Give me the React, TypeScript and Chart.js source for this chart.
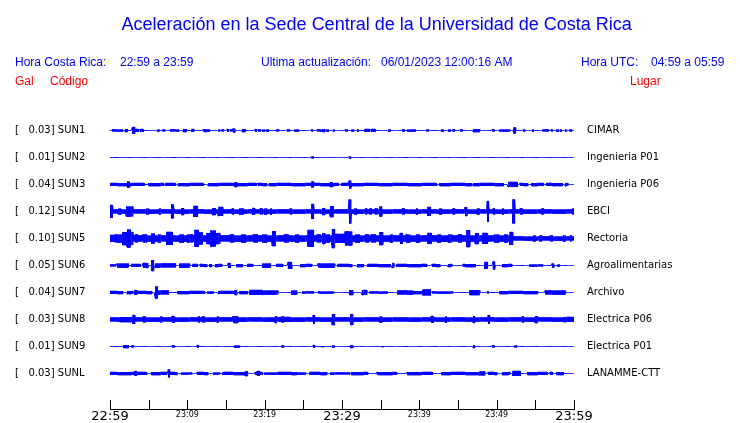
import React, { useEffect, useRef } from 'react';
import { Chart, registerables } from 'chart.js';

Chart.register(...registerables);

// ---------- data ----------
const CODES = ['SUN1', 'SUN2', 'SUN3', 'SUN4', 'SUN5', 'SUN6', 'SUN7', 'SUN8', 'SUN9', 'SUNL'];
const PLACES = ['CIMAR', 'Ingenieria P01', 'Ingenieria P06', 'EBCI', 'Rectoria', 'Agroalimentarias', 'Archivo', 'Electrica P06', 'Electrica P01', 'LANAMME-CTT'];
const PEAK_GAL = [0.03, 0.01, 0.04, 0.12, 0.10, 0.05, 0.04, 0.03, 0.01, 0.03];

// background (noise) half-amplitude of each trace
const BASE_AMP = [0.5, 0.5, 0.5, 2.5, 2.5, 0.5, 0.5, 2.5, 0.5, 0.5];

// bursts: [start minute, end minute, half-amplitude]
const BURSTS_SUN1 = [[0.26,0.26,1.5],[0.65,0.65,1.5],[1.03,1.03,1.5],[1.42,1.42,1.5],[1.94,2.2,2],[2.91,2.91,4],[3.36,3.7,2],[3.9,4.27,2],[6.08,6.08,1.5],[6.85,6.85,1.5],[7.76,7.76,1.5],[8.15,8.15,1.5],[8.66,8.66,1.5],[9.44,9.83,2],[10.6,10.86,2],[12.03,12.03,1.5],[12.28,12.28,2],[12.67,12.67,1.5],[13.97,13.97,1.5],[14.48,14.48,1.5],[15.13,15.13,2],[15.52,15.52,1.5],[15.9,15.9,2.5],[17.07,17.46,2],[18.75,18.75,2],[19.14,19.14,1.5],[19.78,19.78,1.5],[20.3,20.3,1.5],[21.6,21.6,1.5],[22.89,22.89,1.5],[23.92,23.92,1.5],[24.18,24.18,1.5],[26.0,26.0,1.5],[26.77,26.77,1.5],[27.16,27.16,1.5],[27.54,27.54,2],[28.06,28.06,1.5],[28.84,28.84,1.5],[30.39,30.65,1.5],[31.29,31.29,1.5],[31.94,31.94,1.5],[32.97,33.5,2],[33.8,34.27,2],[35.95,35.95,1.5],[37.76,37.76,1.5],[38.53,39.44,1.5],[40.99,40.99,1.5],[42.93,42.93,1.5],[43.71,43.71,1.5],[44.35,44.35,1.5],[45.26,45.52,1.5],[46.94,47.84,2],[49.4,49.4,1.5],[50.43,51.72,1.5],[52.24,52.24,3.5],[53.41,53.41,1.5],[54.57,54.57,1.5],[55.99,56.64,1.5],[57.0,57.0,1.5],[57.8,57.8,1.5],[58.19,58.19,1.5],[58.84,58.84,1.5],[59.48,59.48,1.5]];
const BURSTS_SUN2 = [[26.08,26.08,1.5],[30.9,30.9,1.5]];
const BURSTS_SUN3 = [[0,4.4,2],[2.29,2.29,3.5],[5.04,6.89,2],[7.24,8.4,2],[8.83,9.27,2],[9.4,12.06,2],[12.71,15.94,2],[16.16,16.16,3],[16.46,18.97,2],[19.18,20.26,2],[20.6,29.52,2],[26.08,26.08,3.5],[28.54,28.54,3],[29.96,42.25,2],[30.9,30.9,4.5],[42.67,46.77,2],[46.98,50.86,2],[51.47,52.63,3],[53.02,54.05,2],[54.53,56.03,2],[56.47,57.76,2],[57.93,58.45,2],[58.84,59.22,2]];
const BURSTS_SUN4 = [[0,0.35,7],[1.16,1.16,3.5],[2.07,2.97,5.5],[4.75,4.75,3.5],[6.34,6.34,3.5],[7.98,7.98,7.5],[9.31,9.44,4],[10.86,11.25,6],[13.19,13.58,4],[13.97,14.61,5],[15.78,15.78,3.5],[16.81,17.2,3.5],[18.49,18.49,4],[19.4,19.4,3.5],[20.04,20.04,3.5],[20.69,20.69,3.5],[23.28,23.28,3.5],[26.08,26.08,8],[27.54,27.54,4],[28.45,28.84,6],[30.9,31.16,12.5],[31.68,31.68,3.5],[33.0,33.0,3.5],[33.6,33.6,3.5],[34.3,34.3,3.5],[34.91,34.91,5.5],[37.76,37.89,3.5],[39.57,39.57,3.5],[41.12,41.38,5],[42.67,42.67,3.5],[44.35,44.35,3.5],[45.91,46.16,5],[47.46,47.46,3.5],[48.75,48.75,11],[49.53,49.53,3.5],[50.69,50.69,3.5],[52.11,52.11,12.5],[53.02,53.02,3.5],[55.86,55.86,3.5],[59.87,59.87,3.5]];
const BURSTS_SUN5 = [[0,52.1,3.5],[0,0.65,4],[0.65,1.55,4.5],[1.68,2.2,7],[2.2,2.6,9.5],[2.6,2.97,7],[3.3,3.6,4.5],[4.3,4.8,4.5],[5.43,5.7,5.5],[6.2,6.6,4.5],[7.37,8.02,7],[9.05,9.5,4.5],[10.0,10.73,4.5],[10.99,11.4,9],[11.4,11.9,6.5],[12.54,13.0,6],[13.0,13.6,8.5],[13.6,14.22,6],[15.5,16,4.5],[17,17.5,4.5],[18.5,19,4.5],[19.8,20.3,4.5],[20.95,21.34,8],[22.5,23,4.5],[24,24.4,4.5],[25.6,26.25,9],[26.77,27.2,4.5],[27.54,27.54,6],[27.8,28.4,4.5],[28.71,28.97,10],[29.1,30.26,5],[30.39,31.29,7.5],[31.8,32.3,4.5],[33.0,33.4,4.5],[33.8,34.3,4.5],[34.91,35.3,7],[36.2,36.6,4.5],[37.5,37.76,6],[38.3,38.8,4.5],[39.6,40.0,4.5],[41.12,41.51,6],[42.4,42.8,4.5],[43.7,44.2,4.5],[45.0,45.4,4.5],[46.16,46.55,9],[47.2,47.59,6],[48.23,48.75,6],[49.8,50.3,4.5],[51.0,51.4,4.5],[51.72,52.11,7],[54.7,54.7,3.5],[55.6,55.6,3.5],[56.9,56.9,3.5],[58.58,58.58,3.5],[59.5,59.5,3.5]];
const BURSTS_SUN6 = [[0,0.65,1.5],[0.91,2.33,2.5],[2.84,3.88,2],[4.27,4.91,3],[5.43,5.43,6],[5.82,8.4,2.5],[9.05,10.34,2.5],[10.73,11.25,2],[11.64,12.03,2],[12.28,12.54,2],[12.93,12.93,2],[13.58,14.48,2],[15.26,15.26,3],[16.42,17.07,2],[17.84,18.49,2],[19.78,20.69,2.5],[21.6,22.37,2],[23.02,23.53,4],[24.57,26.12,2],[26.9,29.1,2.5],[29.48,31.29,2],[31.94,32.72,2],[33.36,36.21,2],[36.47,36.47,3],[37.11,40.99,2],[41.64,42.67,2],[43.71,44.22,2],[45.65,47.2,2],[48.49,48.75,4],[49.53,49.53,4.5],[50.69,51.98,2],[54.31,55.99,1.5],[57.15,57.15,2.5],[57.93,57.93,1.5]];
const BURSTS_SUN7 = [[0,1.68,2],[2.2,2.97,2],[3.23,3.23,3],[3.49,5.43,2],[5.82,6.08,6.5],[6.21,7.5,2.5],[8.79,12.28,2],[12.67,13.32,1.5],[13.97,15.9,2],[16.16,16.16,3],[16.81,17.84,2],[18.1,19.78,3],[19.78,21.72,2.5],[23.53,24.18,2.5],[24.83,26.25,1.5],[26.9,28.84,1.5],[31.03,31.42,3],[32.59,33.23,3],[33.62,35.82,1.5],[37.24,39.18,2.5],[39.18,40.47,2],[40.47,41.38,3.5],[41.64,44.35,1.5],[46.55,47.84,3],[48.75,48.75,1.5],[50.43,55.34,2],[56.25,58.84,2.5]];
const BURSTS_SUN8 = [[1.29,2.84,3],[2.97,2.97,5],[4.27,4.27,3.5],[6.47,6.47,3.5],[8.02,8.02,4],[11.38,11.38,3.5],[11.9,11.9,3.5],[13.84,13.84,3.5],[15.9,16.55,4],[21.34,21.34,4],[21.98,23.28,3],[22.24,22.24,3.5],[26.25,26.25,5],[28.71,28.71,6],[31.16,31.16,6],[34.91,34.91,3.5],[41.51,41.51,4],[43.32,43.32,3.5],[46.94,46.94,4],[48.88,48.88,5],[53.28,53.28,3.5],[54.96,54.96,4],[58.58,60,3]];
const BURSTS_SUN9 = [[1.81,2.33,2],[2.84,2.84,1.5],[8.02,8.02,1.5],[11.25,11.25,2],[16.16,16.16,1.5],[16.55,16.55,1.5],[22.24,22.24,1.5],[26.25,26.25,2],[27.41,27.41,1],[28.71,28.71,1.5],[31.16,31.16,2],[35.17,35.17,1],[46.94,46.94,2],[49.4,49.4,1.5],[52.37,52.37,1.5]];
const BURSTS_SUNL = [[0,3.23,2],[3.23,3.49,3],[3.62,4.78,2],[5.43,7.37,2],[7.5,7.5,4.5],[7.76,8.66,2],[9.31,10.6,1.5],[11.25,12.67,2],[13.32,14.22,1.5],[14.61,17.46,2],[17.46,17.46,3],[18.75,19.66,2],[19.01,19.01,3],[20.04,21.6,1.5],[21.72,24.18,2],[24.31,25.22,1.5],[25.86,28.06,2],[28.45,31.03,1.5],[31.29,33.36,2],[34.53,37.11,2],[38.4,41.64,2],[42.93,47.84,2],[47.84,48.49,2.5],[48.88,50.04,2],[50.69,51.72,2],[52.11,53.02,3],[54.05,56.51,2],[56.9,56.9,2],[57.8,58.58,2]];

const BURSTS = [BURSTS_SUN1, BURSTS_SUN2, BURSTS_SUN3, BURSTS_SUN4, BURSTS_SUN5, BURSTS_SUN6, BURSTS_SUN7, BURSTS_SUN8, BURSTS_SUN9, BURSTS_SUNL];

const X_TICK_MINUTES = [0, 5, 10, 15, 20, 25, 30, 35, 40, 45, 50, 55, 60];
const X_TICK_LABELS = ['22:59', '', '23:09', '', '23:19', '', '23:29', '', '23:39', '', '23:49', '', '23:59'];
const X_MAJOR_MINUTES = [0, 30, 60];

const TITLE = 'Aceleración en la Sede Central de la Universidad de Costa Rica';
const HEADER_BLUE = [
  ['Hora Costa Rica:', 15], ['22:59 a 23:59', 120],
  ['Ultima actualización:', 261], ['06/01/2023 12:00:16 AM', 381],
  ['Hora UTC:', 581], ['04:59 a 05:59', 651],
];
const HEADER_RED = [['Gal', 15], ['Código', 50], ['Lugar', 630]];

// ---------- layout constants ----------
const SPAN_MIN = 60;
const BIN = 0.0625;
const MIN_BURST = 0.24;
const STROKE = 1;
const ROW = 27;
const Y_FOOT = 35.5;
const Y_MAX = 292.5;
const BLUE = '#0000ff';
const RED = '#ff0000';
const TICK_FONT = '"DejaVu Sans"';
const HEAD_FONT = '"Liberation Sans"';

const centerOf = (i: number) => Y_FOOT + ROW * (CODES.length - 1 - i);
const CENTERS = CODES.map((_, i) => centerOf(i));

function envelope(base: number, bursts: number[][]) {
  const n = Math.round(SPAN_MIN / BIN);
  const amps = new Array(n).fill(base);
  for (const [t0, t1, a] of bursts) {
    const i0 = Math.floor(t0 / BIN + 1e-6);
    const i1 = Math.floor(Math.max(t1, t0 + MIN_BURST) / BIN + 1e-6);
    for (let i = i0; i <= i1 && i < n; i++) amps[i] = Math.max(amps[i], a);
  }
  return amps;
}

// the trace is drawn as a seismogram-like stroke swinging between the envelope limits
function tracePoints(amps: number[], c: number) {
  const pts: { x: number; y: number }[] = [{ x: 0, y: c }];
  amps.forEach((amp, i) => {
    const a = Math.max(amp - STROKE / 2, 0);
    const x = (i + 0.5) * BIN;
    const s = i % 2 === 0 ? 1 : -1;
    pts.push({ x, y: c + s * a });
    pts.push({ x, y: c - s * a });
  });
  pts.push({ x: SPAN_MIN, y: c });
  return pts;
}

function buildDatasets() {
  return CODES.map((code, i) => ({
    label: code,
    data: tracePoints(envelope(BASE_AMP[i], BURSTS[i]), CENTERS[i]),
    borderColor: BLUE,
    borderWidth: STROKE,
    borderJoinStyle: 'bevel',
    pointRadius: 0,
    fill: false,
    tension: 0,
  }));
}

const headerPlugin = {
  id: 'header',
  afterDraw(chart: any) {
    const ctx = chart.ctx;
    ctx.save();
    ctx.textAlign = 'left';
    ctx.textBaseline = 'alphabetic';
    ctx.fillStyle = BLUE;
    ctx.font = `18px ${HEAD_FONT}`;
    ctx.fillText(TITLE, 121.5, 30);
    ctx.font = `12px ${HEAD_FONT}`;
    HEADER_BLUE.forEach(([t, x]) => ctx.fillText(t as string, x as number, 66));
    ctx.fillStyle = RED;
    HEADER_RED.forEach(([t, x]) => ctx.fillText(t as string, x as number, 85));
    ctx.restore();
  },
};

const tickMarkPlugin = {
  id: 'tickMarks',
  afterDraw(chart: any) {
    const xs = chart.scales.x;
    const ctx = chart.ctx;
    const bottom = chart.chartArea.bottom;
    ctx.save();
    ctx.strokeStyle = '#000';
    ctx.lineWidth = 1;
    ctx.beginPath();
    xs.ticks.forEach((t: any) => {
      const px = Math.round(xs.getPixelForValue(t.value)) + 0.5;
      ctx.moveTo(px, bottom - 9);
      ctx.lineTo(px, bottom);
    });
    ctx.stroke();
    ctx.restore();
  },
};

export default function App() {
  const ref = useRef<HTMLCanvasElement>(null);
  useEffect(() => {
    const chart = new Chart(ref.current as HTMLCanvasElement, {
      type: 'line',
      data: { datasets: buildDatasets() as any },
      options: {
        animation: false,
        responsive: false,
        devicePixelRatio: 1,
        events: [],
        layout: { padding: { top: 116.5, left: 15, right: 0, bottom: 0 } },
        plugins: { legend: { display: false }, tooltip: { enabled: false }, title: { display: false } },
        scales: {
          x: {
            type: 'linear', position: 'bottom', min: 0, max: SPAN_MIN,
            grid: { display: false, drawTicks: false, tickLength: 0 },
            border: { display: true, color: '#000', width: 1 },
            afterBuildTicks: (s: any) => { s.ticks = X_TICK_MINUTES.map((v) => ({ value: v })); },
            afterFit: (s: any) => { s.height = 14; },
            ticks: {
              autoSkip: false, maxRotation: 0, minRotation: 0, padding: 0, color: '#000',
              callback: (v: any) => X_TICK_LABELS[X_TICK_MINUTES.indexOf(Number(v))] ?? '',
              font: (c: any) => (c.tick && X_MAJOR_MINUTES.includes(c.tick.value)
                ? { family: TICK_FONT, size: 13, lineHeight: 1.1 }
                : { family: TICK_FONT, size: 8, lineHeight: 1.5 }),
            },
          },
          y: {
            type: 'linear', position: 'left', min: 0, max: Y_MAX,
            grid: { display: false, drawTicks: false, tickLength: 0 }, border: { display: false },
            afterBuildTicks: (s: any) => { s.ticks = CENTERS.map((v) => ({ value: v })); },
            afterFit: (s: any) => { s.width = 95; },
            ticks: {
              autoSkip: false, crossAlign: 'far', padding: 0, color: '#000',
              font: { family: TICK_FONT, size: 10 },
              callback: (_v: any, i: number) => `[   ${PEAK_GAL[i].toFixed(2)}] ${CODES[i]}`,
            },
          },
          yr: {
            type: 'linear', position: 'right', min: 0, max: Y_MAX, display: true,
            grid: { display: true, drawOnChartArea: false, drawTicks: true, tickLength: 13, color: 'rgba(0,0,0,0)' },
            border: { display: false },
            afterBuildTicks: (s: any) => { s.ticks = CENTERS.map((v) => ({ value: v })); },
            afterFit: (s: any) => { s.width = 166; },
            ticks: {
              autoSkip: false, padding: 0, color: '#000',
              font: { family: TICK_FONT, size: 10 },
              callback: (_v: any, i: number) => PLACES[i],
            },
          },
        },
      } as any,
      plugins: [headerPlugin, tickMarkPlugin],
    });
    return () => chart.destroy();
  }, []);
  return (
    <div style={{ position: 'fixed', left: 0, top: 0, width: 740, height: 423, background: '#fff' }}>
      <canvas ref={ref} width={740} height={423} style={{ display: 'block', width: 740, height: 423 }} />
    </div>
  );
}
